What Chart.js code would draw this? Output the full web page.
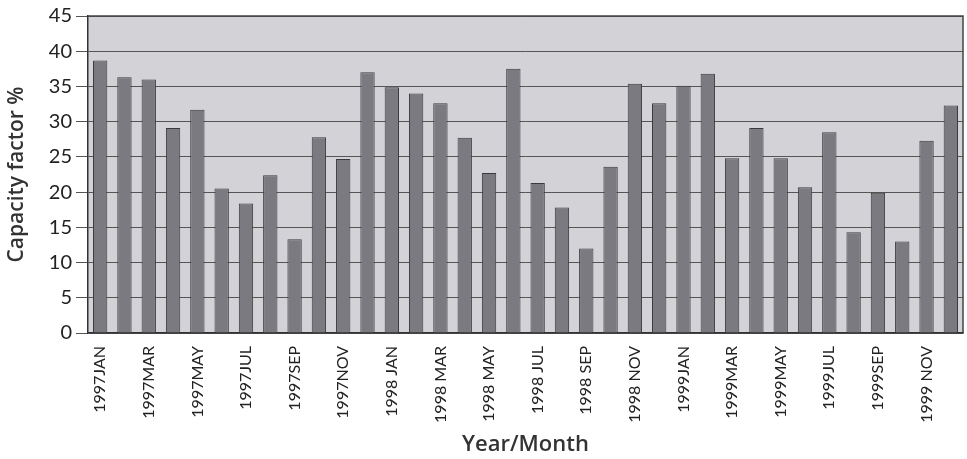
<!DOCTYPE html>
<html>
<head>
<meta charset="utf-8">
<script src="https://cdn.jsdelivr.net/npm/chart.js@4/dist/chart.umd.min.js"></script>
<style>
  html, body { margin: 0; padding: 0; background: #fff; }
  #wrap { width: 967px; height: 459px; position: relative; }
</style>
</head>
<body>
<div id="wrap"><canvas id="cf"></canvas></div>
<script>
// Monthly capacity factor, Jan 1997 - Dec 1999. Only every other month is labelled.
const monthLabels = [
  '1997JAN','1997FEB','1997MAR','1997APR','1997MAY','1997JUN',
  '1997JUL','1997AUG','1997SEP','1997OCT','1997NOV','1997DEC',
  '1998 JAN','1998 FEB','1998 MAR','1998 APR','1998 MAY','1998 JUN',
  '1998 JUL','1998 AUG','1998 SEP','1998 OCT','1998 NOV','1998 DEC',
  '1999JAN','1999FEB','1999MAR','1999APR','1999MAY','1999JUN',
  '1999JUL','1999AUG','1999SEP','1999OCT','1999 NOV','1999 DEC'
];
const cf1997 = [38.7, 36.3, 36.0, 29.1, 31.7, 20.5, 18.4, 22.4, 13.3, 27.8, 24.7, 37.0];
const cf1998 = [34.9, 34.0, 32.6, 27.7, 22.7, 37.5, 21.3, 17.8, 12.0, 23.6, 35.4, 32.6];
const cf1999 = [35.1, 36.8, 24.8, 29.1, 24.8, 20.7, 28.5, 14.3, 19.9, 13.0, 27.3, 32.3];
const yTicks = { min: 0, max: 45, step: 5 };

const plotFrame = {
  id: 'plotFrame',
  beforeDraw(chart){
    const { ctx, chartArea: a } = chart;
    ctx.save();
    ctx.fillStyle = '#d3d3d7';
    ctx.fillRect(a.left, a.top, a.right - a.left, a.bottom - a.top);
    ctx.restore();
  },
  afterDraw(chart){
    const { ctx, chartArea: a } = chart;
    ctx.save();
    ctx.strokeStyle = '#444';
    ctx.lineWidth = 1.5;
    ctx.beginPath();
    ctx.moveTo(a.left, a.top);
    ctx.lineTo(a.right, a.top);
    ctx.lineTo(a.right, a.bottom);
    ctx.stroke();
    ctx.restore();
  }
};

new Chart(document.getElementById('cf'), {
  type: 'bar',
  data: {
    labels: monthLabels,
    datasets: [{
      data: cf1997.concat(cf1998, cf1999),
      backgroundColor: '#7a7a80',
      borderColor: '#3a3a3e',
      borderWidth: 1,
      barPercentage: 0.59,
      categoryPercentage: 1
    }]
  },
  options: {
    responsive: true,
    maintainAspectRatio: false,
    devicePixelRatio: 1,
    animation: false,
    layout: { padding: { top: 14, right: 4, left: 0, bottom: 0 } },
    plugins: { legend: { display: false }, tooltip: { enabled: false } },
    scales: {
      x: {
        grid: { display: false, drawTicks: false },
        border: { color: '#333', width: 1.5 },
        ticks: {
          autoSkip: false, maxRotation: 90, minRotation: 90, padding: 13,
          color: '#222', font: { family: 'Lato', size: 16 },
          callback(v, i){ return i % 2 === 0 ? this.getLabelForValue(v) : ''; }
        },
        title: {
          display: true, text: 'Year/Month', color: '#333',
          font: { family: 'Open Sans', size: 22, weight: '600' },
          padding: { top: 0, bottom: 1 }
        },
        afterFit(s){ s.height = 126; s.paddingLeft = 0; s.paddingRight = 0; }
      },
      y: {
        min: yTicks.min, max: yTicks.max,
        grid: { color: '#555', lineWidth: 1, tickLength: 12 },
        border: { color: '#333', width: 1.5 },
        ticks: { stepSize: yTicks.step, padding: 4, color: '#222', font: { family: 'Lato', size: 20 } },
        title: {
          display: true, text: 'Capacity factor %', color: '#333',
          font: { family: 'Open Sans', size: 21, weight: '600' },
          padding: { top: 4, bottom: 0 }
        },
        afterFit(s){ s.width = 88; }
      }
    }
  },
  plugins: [plotFrame]
});
</script>
</body>
</html>
